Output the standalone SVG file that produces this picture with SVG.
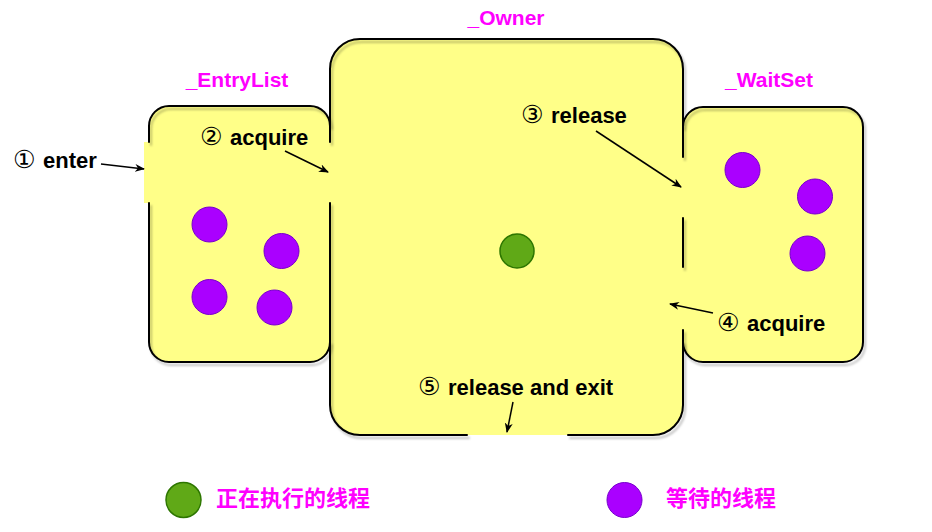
<svg xmlns="http://www.w3.org/2000/svg" width="932" height="532" viewBox="0 0 932 532">
<style>
.fill{fill:#FFFF88;stroke:none}
.edge{fill:none;stroke:#000;stroke-width:2;stroke-linecap:round;stroke-linejoin:round}
.title{font-family:"Liberation Sans","DejaVu Sans",sans-serif;font-weight:bold;font-size:21px;fill:#FF00FF;text-anchor:middle}
.label{font-family:"Liberation Sans","DejaVu Sans",sans-serif;font-weight:bold;font-size:22px;fill:#000}
.num{font-family:"DejaVu Sans",sans-serif;font-weight:normal;font-size:25px}
.legend{font-family:"Noto Sans CJK SC","Noto Sans CJK JP",sans-serif;font-weight:bold;font-size:22px;fill:#FF00FF}
.wait{fill:#AA00FF;stroke:#7700CC;stroke-width:1}
.run{fill:#60A917;stroke:#2D7600;stroke-width:1.5}
.conn{fill:none;stroke:#000;stroke-width:1.5}
</style>
<defs>
<marker id="arrow" viewBox="0 0 10 8" refX="9" refY="4" markerWidth="10" markerHeight="8" markerUnits="userSpaceOnUse" orient="auto">
<path d="M0,0 L10,4 L0,8 L3,4 z" fill="#000"/>
</marker>
<filter id="shadow" x="-5%" y="-5%" width="110%" height="115%">
<feDropShadow dx="2" dy="3" stdDeviation="1" flood-color="#000" flood-opacity="0.25"/>
</filter>
</defs>
<rect width="932" height="532" fill="#fff"/>

<g id="fills">
<rect class="fill" x="149" y="106" width="181" height="256" rx="20"/>
<rect class="fill" x="683" y="107" width="180" height="255" rx="20"/>
<rect class="fill" x="330" y="39" width="353" height="396" rx="30"/>
<rect class="fill" x="144" y="142" width="8" height="61"/>
</g>

<g id="owner">
<path class="edge" filter="url(#shadow)" d="M330,142 L330,69 A30,30 0 0 1 360,39 L653,39 A30,30 0 0 1 683,69 L683,157 M683,218 L683,267 M683,330 L683,405 A30,30 0 0 1 653,435 L568,435 M467,435 L360,435 A30,30 0 0 1 330,405 L330,203"/>
<circle class="run" cx="517" cy="251" r="17"/>
<text class="title" x="506" y="25">_Owner</text>
</g>

<g id="entrylist">
<path class="edge" filter="url(#shadow)" d="M149,142 L149,126 A20,20 0 0 1 169,106 L310,106 A20,20 0 0 1 330,126 M149,203 L149,342 A20,20 0 0 0 169,362 L310,362 A20,20 0 0 0 330,342"/>
<circle class="wait" cx="209.5" cy="224.5" r="17.5"/>
<circle class="wait" cx="281.5" cy="251" r="17.5"/>
<circle class="wait" cx="209.5" cy="297" r="17.5"/>
<circle class="wait" cx="274.5" cy="307.5" r="17.5"/>
<text class="title" x="237" y="87">_EntryList</text>
</g>

<g id="waitset">
<path class="edge" filter="url(#shadow)" d="M683,127 A20,20 0 0 1 703,107 L843,107 A20,20 0 0 1 863,127 L863,342 A20,20 0 0 1 843,362 L703,362 A20,20 0 0 1 683,342"/>
<circle class="wait" cx="742.5" cy="170" r="17.5"/>
<circle class="wait" cx="815" cy="196.5" r="17.5"/>
<circle class="wait" cx="807.5" cy="253.5" r="17.5"/>
<text class="title" x="769" y="87">_WaitSet</text>
</g>

<g id="connectors">
<line class="conn" x1="101" y1="164" x2="144" y2="169" marker-end="url(#arrow)"/>
<line class="conn" x1="285" y1="151" x2="328" y2="172" marker-end="url(#arrow)"/>
<line class="conn" x1="596" y1="131" x2="681" y2="187" marker-end="url(#arrow)"/>
<line class="conn" x1="713" y1="313" x2="670" y2="304" marker-end="url(#arrow)"/>
<line class="conn" x1="513" y1="402" x2="507" y2="432" marker-end="url(#arrow)"/>
</g>

<g id="labels">
<text class="label" x="13" y="168"><tspan class="num">① </tspan><tspan x="43">enter</tspan></text>
<text class="label" x="200" y="145"><tspan class="num">② </tspan><tspan x="230">acquire</tspan></text>
<text class="label" x="521" y="123"><tspan class="num">③ </tspan><tspan x="551">release</tspan></text>
<text class="label" x="717" y="331"><tspan class="num">④ </tspan><tspan x="747">acquire</tspan></text>
<text class="label" x="418" y="395"><tspan class="num">⑤ </tspan><tspan x="448">release and exit</tspan></text>
</g>

<g id="legend-running">
<circle class="run" cx="183.5" cy="500" r="17.5"/>
<text class="legend" x="216" y="506">正在执行的线程</text>
</g>
<g id="legend-waiting">
<circle class="wait" cx="624.5" cy="500" r="17.5"/>
<text class="legend" x="666" y="506">等待的线程</text>
</g>
</svg>
